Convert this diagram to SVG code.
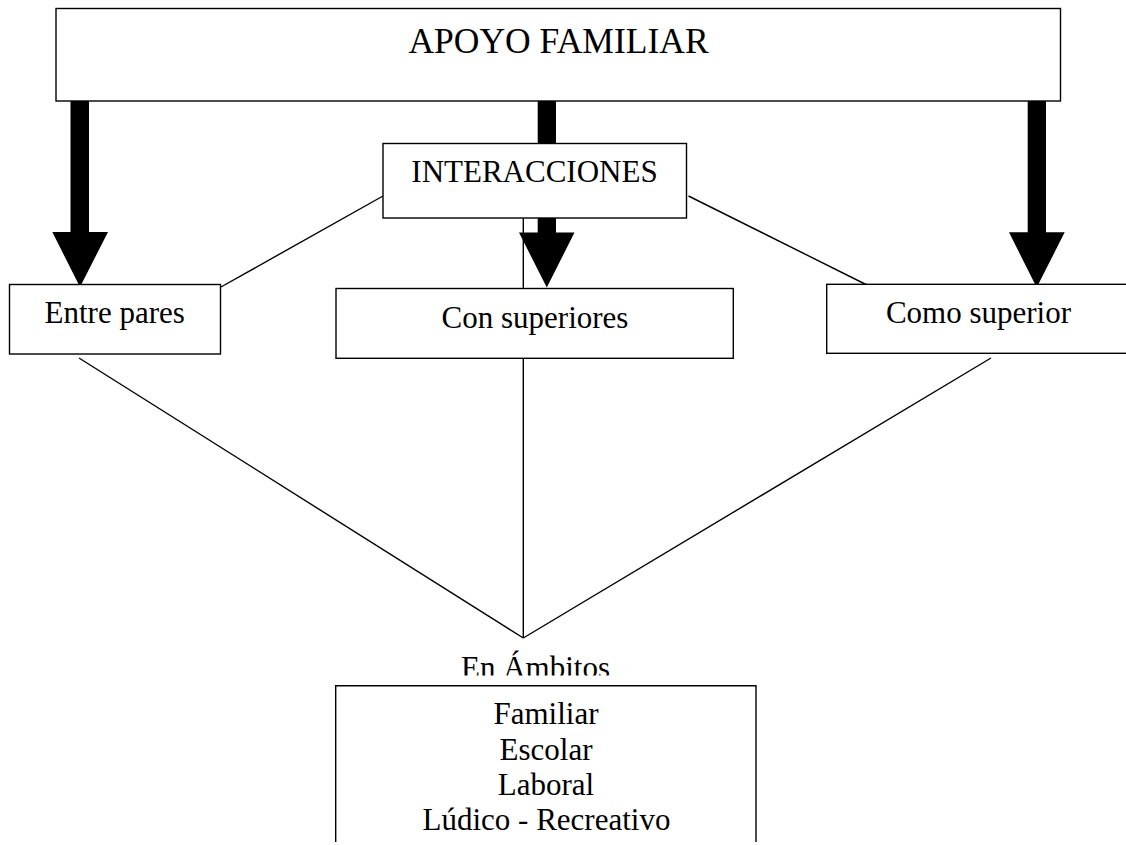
<svg xmlns="http://www.w3.org/2000/svg" width="1126" height="845" viewBox="0 0 1126 845">
<style>
.box{fill:#fff;stroke:#000;stroke-width:1.4}
.ln{stroke:#000;stroke-width:1.4;fill:none}
.arr{fill:#000;stroke:none}
text{font-family:"Liberation Serif","Times New Roman",serif;fill:#000;text-anchor:middle}
.t{font-size:31px}
</style>
<defs>
<clipPath id="clipAmb"><rect x="300" y="600" width="500" height="75.5"/></clipPath>
</defs>
<rect x="0" y="0" width="1126" height="845" fill="#fff"/>
<g id="connectors">
<line class="ln" x1="383" y1="196" x2="221" y2="287"/>
<line class="ln" x1="688.5" y1="196" x2="874" y2="288.5"/>
<line class="ln" x1="523.3" y1="218" x2="523.3" y2="288.5"/>
<line class="ln" x1="79" y1="358" x2="523.3" y2="638"/>
<line class="ln" x1="523.3" y1="358" x2="523.3" y2="638"/>
<line class="ln" x1="991" y1="358" x2="523.3" y2="638"/>
<polygon class="arr" points="70.5,101 89,101 89,232 108,232 80,287 52.3,232 70.5,232"/>
<rect class="arr" x="537.7" y="101" width="18.3" height="43"/>
<polygon class="arr" points="537.7,218 556,218 556,232.5 574.5,232.5 546.8,287.5 519,232.5 537.7,232.5"/>
<polygon class="arr" points="1027.7,101 1046,101 1046,232.3 1064.7,232.3 1036.7,287.5 1009,232.3 1027.7,232.3"/>
</g>
<g id="apoyo">
<rect class="box" x="56" y="8.5" width="1004.5" height="92.5"/>
<text x="558.5" y="53" style="font-size:35.5px">APOYO FAMILIAR</text>
</g>
<g id="interacciones">
<rect class="box" x="383" y="143.5" width="303.5" height="74.5"/>
<text class="t" x="534.5" y="182.3">INTERACCIONES</text>
</g>
<g id="entre-pares">
<rect class="box" x="9.5" y="284.5" width="211" height="69.5"/>
<text class="t" x="114.7" y="322.7">Entre pares</text>
</g>
<g id="con-superiores">
<rect class="box" x="336" y="288.5" width="397.3" height="69.8"/>
<text class="t" x="535" y="327.7">Con superiores</text>
</g>
<g id="como-superior">
<rect class="box" x="826.7" y="284.3" width="320" height="69"/>
<text class="t" x="978.5" y="322.7">Como superior</text>
</g>
<g id="en-ambitos">
<text class="t" x="535.5" y="678" clip-path="url(#clipAmb)">En Ámbitos</text>
</g>
<g id="ambitos">
<path class="ln" d="M335.7,842 V685.7 H756 V842"/>
<text class="t" x="546" y="724">Familiar</text>
<text class="t" x="546" y="759.5">Escolar</text>
<text class="t" x="546" y="795">Laboral</text>
<text class="t" x="546.5" y="830">Lúdico - Recreativo</text>
</g>
</svg>
